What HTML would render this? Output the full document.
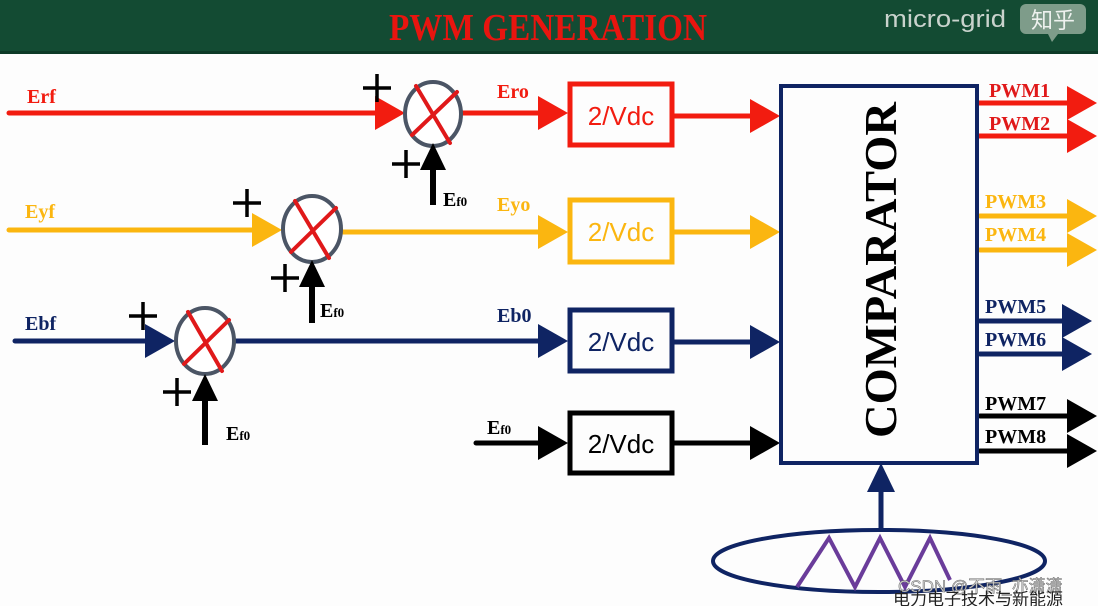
<!DOCTYPE html>
<html><head><meta charset="utf-8"><style>
html,body{margin:0;padding:0;background:#fff;}
svg{display:block}
</style></head><body>
<svg width="1098" height="606" viewBox="0 0 1098 606" xmlns="http://www.w3.org/2000/svg">
<defs>
<g id="ah"><path d="M0,0 L-30,-17 L-30,17 Z"/></g>
</defs>
<rect x="0" y="0" width="1098" height="606" fill="#fdfdfd"/>
<!-- header -->
<rect x="0" y="0" width="1098" height="54" fill="#134b33"/>
<rect x="0" y="51" width="1098" height="3" fill="#0d3a27"/>
<text x="548" y="40" text-anchor="middle" font-family="Liberation Serif, serif" font-weight="bold" font-size="38" fill="#e8150f" textLength="318" lengthAdjust="spacingAndGlyphs">PWM GENERATION</text>
<text x="884" y="27" font-family="Liberation Sans, sans-serif" font-size="24" fill="#c9d3cd" textLength="122" lengthAdjust="spacingAndGlyphs">micro-grid</text>
<rect x="1020" y="4" width="66" height="30" rx="6" fill="#7e9c8a"/>
<path d="M1048,34 L1052,42 L1058,34 Z" fill="#7e9c8a"/>
<text x="1053" y="28" text-anchor="middle" font-family="Noto Sans CJK SC, sans-serif" font-size="22" fill="#eef2ef">知乎</text>

<!-- RED row -->
<g stroke="#f21c10" stroke-width="5" fill="none" stroke-linecap="round">
<line x1="9" y1="113" x2="380" y2="113"/>
<line x1="462" y1="113" x2="545" y2="113"/>
<line x1="673" y1="116" x2="755" y2="116"/>
<rect x="570" y="84" width="102" height="61"/>
<line x1="978" y1="103" x2="1070" y2="103"/>
<line x1="978" y1="136" x2="1070" y2="136"/>
</g>
<g fill="#f21c10">
<use href="#ah" x="405" y="113"/><use href="#ah" x="568" y="113"/><use href="#ah" x="780" y="116"/>
<use href="#ah" x="1097" y="103"/><use href="#ah" x="1097" y="136"/>
</g>
<!-- YELLOW row -->
<g stroke="#fbb610" stroke-width="5" fill="none" stroke-linecap="round">
<line x1="9" y1="230" x2="258" y2="230"/>
<line x1="341" y1="232" x2="545" y2="232"/>
<line x1="673" y1="232" x2="755" y2="232"/>
<rect x="570" y="200" width="102" height="62"/>
<line x1="980" y1="216" x2="1070" y2="216"/>
<line x1="980" y1="250" x2="1070" y2="250"/>
</g>
<g fill="#fbb610">
<use href="#ah" x="282" y="230"/><use href="#ah" x="568" y="232"/><use href="#ah" x="780" y="232"/>
<use href="#ah" x="1097" y="216"/><use href="#ah" x="1097" y="250"/>
</g>
<!-- NAVY row -->
<g stroke="#0f2463" stroke-width="5" fill="none" stroke-linecap="round">
<line x1="15" y1="341" x2="150" y2="341"/>
<line x1="234" y1="341" x2="545" y2="341"/>
<line x1="673" y1="342" x2="755" y2="342"/>
<rect x="570" y="310" width="102" height="61"/>
<line x1="980" y1="321" x2="1065" y2="321"/>
<line x1="980" y1="354" x2="1065" y2="354"/>
</g>
<g fill="#0f2463">
<use href="#ah" x="175" y="341"/><use href="#ah" x="568" y="341"/><use href="#ah" x="780" y="342"/>
<use href="#ah" x="1092" y="321"/><use href="#ah" x="1092" y="354"/>
</g>
<!-- BLACK row -->
<g stroke="#000" stroke-width="5" fill="none" stroke-linecap="round">
<line x1="476" y1="443" x2="545" y2="443"/>
<line x1="673" y1="443" x2="755" y2="443"/>
<rect x="570" y="413" width="102" height="60"/>
<line x1="980" y1="416" x2="1070" y2="416"/>
<line x1="980" y1="451" x2="1070" y2="451"/>
</g>
<g fill="#000">
<use href="#ah" x="568" y="443"/><use href="#ah" x="780" y="443"/>
<use href="#ah" x="1097" y="416"/><use href="#ah" x="1097" y="451"/>
</g>
<!-- box texts -->
<g font-family="Liberation Sans, sans-serif" font-size="26" text-anchor="middle">
<text x="621" y="125" fill="#f21c10">2/Vdc</text>
<text x="621" y="241" fill="#fbb610">2/Vdc</text>
<text x="621" y="351" fill="#0f2463">2/Vdc</text>
<text x="621" y="453" fill="#000">2/Vdc</text>
</g>
<!-- summing junctions -->
<g stroke="#4b5565" stroke-width="4" fill="#fff">
<ellipse cx="433" cy="114" rx="28" ry="32"/>
<ellipse cx="312" cy="229" rx="29" ry="33"/>
<ellipse cx="205" cy="341" rx="29" ry="33"/>
</g>
<g stroke="#e0191a" stroke-width="4" stroke-linecap="round">
<line x1="416" y1="86" x2="450" y2="143"/><line x1="457" y1="92" x2="412" y2="135"/>
<line x1="295" y1="201" x2="329" y2="258"/><line x1="336" y1="208" x2="291" y2="252"/>
<line x1="188" y1="312" x2="222" y2="371"/><line x1="229" y1="320" x2="184" y2="364"/>
</g>
<!-- Ef0 vertical arrows -->
<g stroke="#000" stroke-width="6">
<line x1="433" y1="205" x2="433" y2="165"/>
<line x1="312" y1="323" x2="312" y2="282"/>
<line x1="205" y1="445" x2="205" y2="395"/>
</g>
<g fill="#000">
<path d="M433,143 L420,170 L446,170 Z"/>
<path d="M312,260 L299,287 L325,287 Z"/>
<path d="M205,374 L192,401 L218,401 Z"/>
</g>
<!-- plus signs -->
<g stroke="#000" stroke-width="3.5">
<path d="M363,88 h28 M377,74 v28"/>
<path d="M392,164 h28 M406,150 v28"/>
<path d="M233,203 h28 M247,189 v28"/>
<path d="M271,278 h28 M285,264 v28"/>
<path d="M129,316 h28 M143,302 v28"/>
<path d="M163,392 h28 M177,378 v28"/>
</g>
<!-- labels -->
<g font-family="Liberation Serif, serif" font-weight="bold" font-size="20">
<text x="27" y="103" fill="#f21c10">Erf</text>
<text x="25" y="218" fill="#fbb610">Eyf</text>
<text x="25" y="330" fill="#0f2463">Ebf</text>
<text x="497" y="98" fill="#f21c10">Ero</text>
<text x="497" y="211" fill="#fbb610">Eyo</text>
<text x="497" y="322" fill="#0f2463">Eb0</text>
<text x="487" y="434" fill="#000">E<tspan font-size="13">f0</tspan></text>
<text x="443" y="206" fill="#000">E<tspan font-size="13">f0</tspan></text>
<text x="320" y="317" fill="#000">E<tspan font-size="13">f0</tspan></text>
<text x="226" y="440" fill="#000">E<tspan font-size="13">f0</tspan></text>
</g>
<g font-family="Liberation Serif, serif" font-weight="bold" font-size="20">
<text x="989" y="97" fill="#e0191a">PWM1</text>
<text x="989" y="130" fill="#e0191a">PWM2</text>
<text x="985" y="208" fill="#fbb610">PWM3</text>
<text x="985" y="241" fill="#fbb610">PWM4</text>
<text x="985" y="313" fill="#0f2463">PWM5</text>
<text x="985" y="346" fill="#0f2463">PWM6</text>
<text x="985" y="410" fill="#000">PWM7</text>
<text x="985" y="443" fill="#000">PWM8</text>
</g>
<!-- comparator -->
<rect x="781" y="86" width="196" height="377" fill="none" stroke="#0f2463" stroke-width="4"/>
<text transform="translate(896,270) rotate(-90)" text-anchor="middle" font-family="Liberation Serif, serif" font-weight="bold" font-size="46" fill="#000" textLength="336" lengthAdjust="spacingAndGlyphs">COMPARATOR</text>
<!-- carrier -->
<line x1="881" y1="531" x2="881" y2="490" stroke="#0f2463" stroke-width="5"/>
<path d="M881,463 L867,492 L895,492 Z" fill="#0f2463"/>
<ellipse cx="879" cy="561" rx="166" ry="31" fill="none" stroke="#0f2463" stroke-width="4"/>
<polyline points="797,587 829,538 855,587 880,538 905,587 930,538 950,580" fill="none" stroke="#6a3c9a" stroke-width="4" stroke-linejoin="miter"/>
<text x="898" y="592" font-family="Liberation Sans, Noto Sans CJK SC, sans-serif" font-size="17" fill="#d8d8d8" stroke="#666" stroke-width="0.5">CSDN @不雨_亦潇潇</text>
<text x="893" y="605" font-family="Noto Sans CJK SC, sans-serif" font-size="17" fill="#222">电力电子技术与新能源</text>
</svg>
</body></html>
